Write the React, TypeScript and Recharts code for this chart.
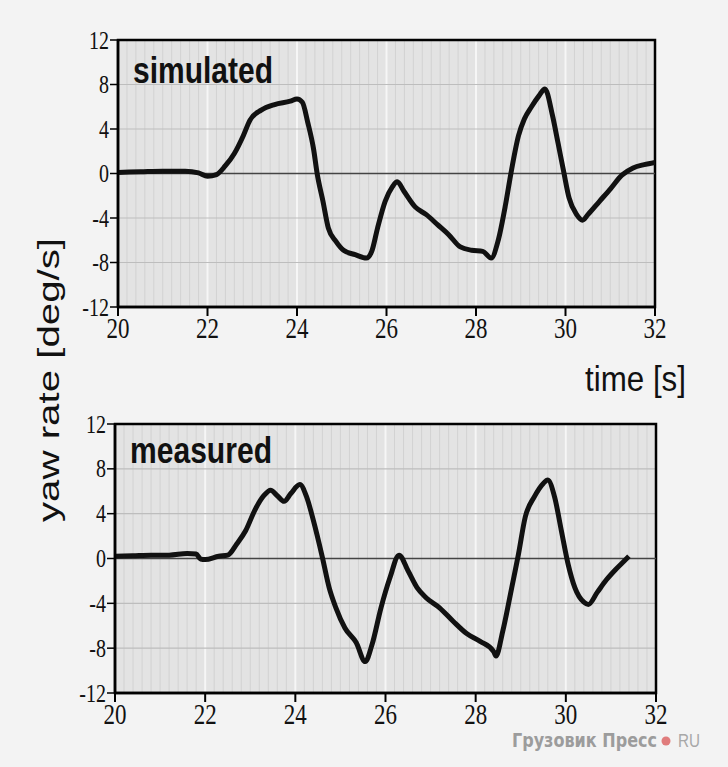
import React from 'react';
import {
  LineChart, Line, XAxis, YAxis, CartesianGrid, ReferenceLine, ReferenceArea
} from 'recharts';

// time [s] and yaw rate [deg/s]
const simTime = [20.0, 20.5, 21.0, 21.5, 21.8, 22.0, 22.2, 22.4, 22.6, 22.8, 22.95, 23.2, 23.5, 23.85, 24.0, 24.12, 24.24, 24.37, 24.45, 24.58, 24.7, 24.87, 25.04, 25.3, 25.55, 25.67, 25.8, 25.97, 26.13, 26.24, 26.39, 26.64, 26.89, 27.14, 27.39, 27.65, 27.9, 28.15, 28.34, 28.49, 28.66, 28.78, 28.95, 29.08, 29.24, 29.41, 29.54, 29.71, 29.83, 29.96, 30.08, 30.25, 30.38, 30.5, 30.76, 31.01, 31.26, 31.51, 31.76, 32.0];
const simYaw = [0.1, 0.15, 0.2, 0.2, 0.05, -0.25, -0.1, 0.7, 1.8, 3.4, 4.8, 5.7, 6.2, 6.5, 6.7, 6.4, 4.6, 2.2, 0, -2.5, -4.9, -6.1, -6.9, -7.3, -7.6, -7.0, -4.9, -2.5, -1.2, -0.75, -1.6, -3.0, -3.7, -4.6, -5.5, -6.6, -6.9, -7.0, -7.6, -6.1, -2.8, 0, 3.4, 4.9, 6.0, 7.0, 7.6, 5.2, 2.8, 0.15, -2.2, -3.7, -4.2, -3.7, -2.5, -1.35, -0.15, 0.5, 0.8, 1.0];

const measTime = [20.0, 20.4, 20.8, 21.2, 21.6, 21.8, 21.9, 22.0, 22.3, 22.5, 22.7, 22.9, 23.1, 23.3, 23.45, 23.6, 23.75, 23.9, 24.1, 24.25, 24.4, 24.6, 24.75, 24.9, 25.1, 25.35, 25.55, 25.7, 25.9, 26.1, 26.3, 26.5, 26.7, 26.9, 27.2, 27.5, 27.8, 28.1, 28.4, 28.45, 28.6, 28.8, 28.95, 29.1, 29.3, 29.5, 29.6, 29.75, 29.9, 30.05, 30.2, 30.4, 30.5, 30.7, 30.9, 31.1, 31.3, 31.4];
const measYaw = [0.2, 0.25, 0.3, 0.3, 0.45, 0.4, -0.05, -0.1, 0.2, 0.3, 1.3, 2.5, 4.3, 5.6, 6.1, 5.6, 5.1, 5.8, 6.6, 5.5, 3.4, 0.1, -2.6, -4.4, -6.2, -7.5, -9.2, -7.7, -4.4, -1.7, 0.3, -1.1, -2.6, -3.5, -4.4, -5.6, -6.7, -7.4, -8.3, -8.7, -6.5, -2.6, 0.4, 3.7, 5.5, 6.7, 7.0, 5.5, 2.5, -0.5, -2.6, -3.9, -4.1, -3.0, -1.9, -1.0, -0.2, 0.2];

const xTicks = [20, 22, 24, 26, 28, 30, 32];
const yTicks = [-12, -8, -4, 0, 4, 8, 12];

const toRows = (t: number[], v: number[]) => t.map((x, i) => ({ t: x, yaw: v[i] }));

const XTick = (props: any) => {
  const { x, y, payload } = props;
  return (
    <g transform={`translate(${x},${y})`}>
      <text transform="scale(1,1.25)" textAnchor="middle" dy="0.72em" fontFamily="Liberation Serif" fontSize={23} fill="#111">
        {payload.value}
      </text>
    </g>
  );
};

const YTick = (props: any) => {
  const { x, y, payload } = props;
  return (
    <g transform={`translate(${x},${y})`}>
      <text transform="scale(1,1.25)" textAnchor="end" dy="0.34em" fontFamily="Liberation Serif" fontSize={20} fill="#111">
        {payload.value}
      </text>
    </g>
  );
};

// dense thin vertical lines like the photographed screen grid
const minorVertical = ({ offset }: any) => {
  const out: number[] = [];
  for (let i = 0; i <= 60; i++) out.push(offset.left + (i * offset.width) / 60);
  return out;
};

const Panel = ({ data, top, left, right, yWidth, bottom }: any) => (
  <div style={{ position: 'absolute', left: 0, top }}>
    <LineChart width={728} height={345} data={data} margin={{ top: 40, right, bottom, left }}>
      <CartesianGrid fill="#e3e3e3" stroke="#d2d2d2" strokeWidth={1} horizontal={false} verticalCoordinatesGenerator={minorVertical} />
      <CartesianGrid stroke="#f6f6f6" strokeWidth={2} vertical={true} horizontal={false} />
      <CartesianGrid stroke="#bdbdbd" strokeWidth={1.2} vertical={false} />
      <XAxis
        dataKey="t" type="number" domain={[20, 32]} ticks={xTicks} allowDataOverflow
        height={30} tickSize={9} tickMargin={1} tick={<XTick />}
        axisLine={{ stroke: '#000', strokeWidth: 2.5 }} tickLine={{ stroke: '#000', strokeWidth: 2 }}
      />
      <YAxis
        type="number" domain={[-12, 12]} ticks={yTicks} width={yWidth}
        tickSize={8} tickMargin={1} tick={<YTick />}
        axisLine={{ stroke: '#000', strokeWidth: 2.5 }} tickLine={{ stroke: '#000', strokeWidth: 1.5 }}
      />
      <ReferenceLine y={0} stroke="#444" strokeWidth={1.5} />
      <ReferenceArea x1={20} x2={32} y1={-12} y2={12} fill="none" stroke="#000" strokeWidth={2.5} />
      <Line type="monotone" dataKey="yaw" stroke="#111" strokeWidth={5} dot={false} strokeLinejoin="round" isAnimationActive={false} />
    </LineChart>
  </div>
);

export default function App() {
  return (
    <div style={{ position: 'absolute', left: 0, top: 0, width: 728, height: 767, background: '#f3f3f3', overflow: 'hidden' }}>
      <Panel data={toRows(simTime, simYaw)} top={0} left={0} right={73} yWidth={118} bottom={8} />
      <Panel data={toRows(measTime, measYaw)} top={384} left={0} right={72} yWidth={115} bottom={6} />
      <svg width={728} height={767} style={{ position: 'absolute', left: 0, top: 0, pointerEvents: 'none' }}>
        <g transform="translate(133,83) scale(1,1.3)">
          <text fontFamily="Liberation Sans" fontWeight="bold" fontSize={29} fill="#111" textLength={140} lengthAdjust="spacingAndGlyphs">simulated</text>
        </g>
        <g transform="translate(130,463) scale(1,1.3)">
          <text fontFamily="Liberation Sans" fontWeight="bold" fontSize={29} fill="#111" textLength={142} lengthAdjust="spacingAndGlyphs">measured</text>
        </g>
        <g transform="translate(585,391) scale(1,1.12)">
          <text fontFamily="Liberation Sans" fontSize={31} fill="#111" textLength={101} lengthAdjust="spacingAndGlyphs">time [s]</text>
        </g>
        <g transform="translate(59,522) rotate(-90)">
          <text fontFamily="Liberation Sans" fontSize={30} fill="#111" textLength={284} lengthAdjust="spacingAndGlyphs">yaw rate [deg/s]</text>
        </g>
        <text x={512} y={747} fontFamily="DejaVu Sans Condensed, DejaVu Sans" fontWeight="bold" fontSize={19} fill="#9c9c9c" textLength={145} lengthAdjust="spacingAndGlyphs">Грузовик Пресс</text>
        <circle cx={666} cy={741} r={4.5} fill="#e07c7c" />
        <text x={678} y={747} fontFamily="Liberation Sans" fontSize={19} fill="#a8a8a8" textLength={22} lengthAdjust="spacingAndGlyphs">RU</text>
      </svg>
    </div>
  );
}
